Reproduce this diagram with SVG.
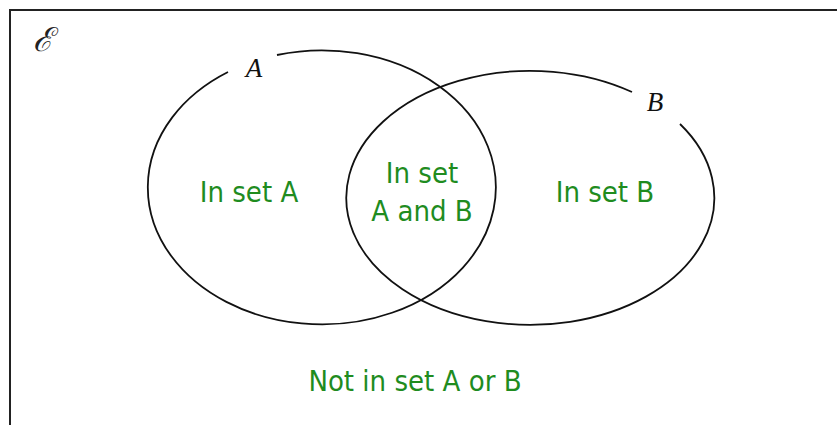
<svg xmlns="http://www.w3.org/2000/svg" width="837" height="425" viewBox="0 0 837 425">
<style>
.set{fill:none;stroke:#111;stroke-width:1.8}
.lbl{font-family:"DejaVu Sans","Noto Sans",sans-serif;font-stretch:condensed;font-size:29px;fill:#1f8c1f;text-anchor:middle}
.nm{font-family:"Liberation Serif","DejaVu Serif",serif;font-style:italic;font-size:27px;fill:#111}
</style>
<rect width="837" height="425" fill="#fff"/>
<g id="universe">
<path d="M10 430 V10 H840" fill="none" stroke="#222" stroke-width="2"/>
<text x="33" y="51" style="font-family:'DejaVu Serif',serif;font-style:italic;font-size:33px;fill:#222">ℰ</text>
</g>
<g id="setA">
<path class="set" d="M277 55 A174 137 0 1 1 228 72"/>
<text class="nm" x="254" y="77" text-anchor="middle">A</text>
</g>
<g id="setB">
<path class="set" d="M680 124 A184 127 0 1 1 632 92"/>
<text class="nm" x="655" y="111" text-anchor="middle">B</text>
</g>
<g id="labels">
<text class="lbl" x="249" y="202">In set A</text>
<text class="lbl" x="422" y="183">In set</text>
<text class="lbl" x="422" y="221">A and B</text>
<text class="lbl" x="605" y="202">In set B</text>
<text class="lbl" x="415" y="391">Not in set A or B</text>
</g>
</svg>
